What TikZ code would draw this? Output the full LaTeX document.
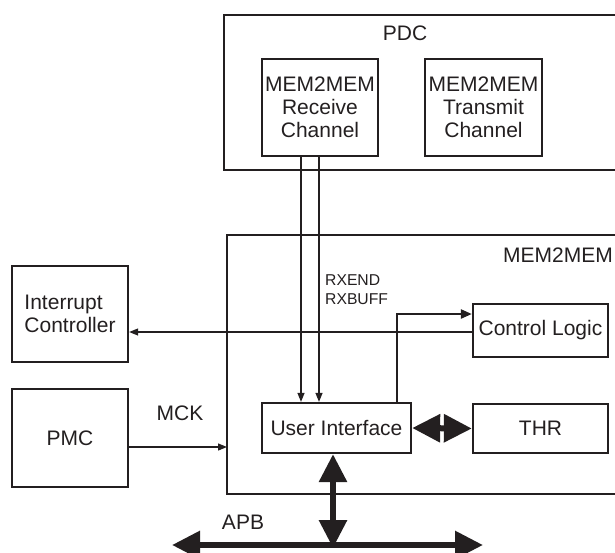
\documentclass[tikz,border=0pt]{standalone}
\usepackage{fontspec}
\setmainfont{Liberation Sans}
\usetikzlibrary{arrows.meta}
\definecolor{ink}{HTML}{231F20}
\tikzset{
  box/.style={draw=ink, line width=2.3pt, rectangle, inner sep=0pt, align=center,
              font=\fontsize{21}{23}\selectfont, text=ink},
  lbl/.style={inner sep=0pt, text=ink, font=\fontsize{21}{23}\selectfont},
  small/.style={inner sep=0pt, text=ink, align=left, font=\fontsize{15.7}{18.7}\selectfont},
  frame/.style={draw=ink, line width=2.3pt},
  thin/.style={draw=ink, line width=1.2pt, -{Triangle[length=9pt,width=7pt]}},
  mid/.style={draw=ink, line width=2.3pt, -{Triangle[length=11pt,width=9pt]}},
  bus/.style={draw=ink, line width=6pt, {Triangle[length=28pt,width=27pt]}-{Triangle[length=28pt,width=27pt]}},
}
\begin{document}
\begin{tikzpicture}[x=1pt,y=-1pt]
\useasboundingbox (0,0) rectangle (615,552);
% PDC frame (open to the right)
\coordinate (pdcTR) at (615,15);
\coordinate (pdcTL) at (224,15);
\coordinate (pdcBL) at (224,170);
\coordinate (pdcBR) at (615,170);
\draw[frame] (pdcTR) -- (pdcTL) -- (pdcBL) -- (pdcBR);
\node[lbl] (pdcl) at (405,33) {PDC};
\node[box, minimum width=116pt, minimum height=97pt] (rx) at (320,107.5) {MEM2MEM\\Receive\\Channel};
\node[box, minimum width=117pt, minimum height=97pt] (tx) at (483.5,107.5) {MEM2MEM\\Transmit\\Channel};
% MEM2MEM frame (open to the right)
\coordinate (mTR) at (615,235);
\coordinate (mTL) at (227,235);
\coordinate (mBL) at (227,494);
\coordinate (mBR) at (615,494);
\draw[frame] (mTR) -- (mTL) -- (mBL) -- (mBR);
\node[lbl, anchor=east] (ml) at (613,255) {MEM2MEM};
% boxes
\node[box, minimum width=116pt, minimum height=96pt, align=left] (ic) at (70,314) {Interrupt\\Controller};
\node[box, minimum width=116pt, minimum height=98pt] (pmc) at (70,438) {PMC};
\node[box, minimum width=149pt, minimum height=50pt] (ui) at (336.5,428) {User Interface};
\node[box, minimum width=135pt, minimum height=49pt] (thr) at (540.5,428.5) {THR};
\node[box, minimum width=135pt, minimum height=53pt] (cl) at (540.5,330.5) {Control Logic};
% signals from receive channel
\draw[thin] ([xshift=-19pt]rx.south) -- ([xshift=-19pt]rx.south |- ui.north);
\draw[thin] ([xshift=-1pt]rx.south) -- ([xshift=-1pt]rx.south |- ui.north);
\node[small, anchor=west] (rxl) at (325,290) {RXEND\\RXBUFF};
% control logic to interrupt controller
\draw[thin] ([yshift=-1.5pt]cl.west) -- ([yshift=-1.5pt]cl.west -| ic.east);
% user interface to control logic
\draw[mid] ([xshift=60.5pt]ui.north) |- ([yshift=16.5pt]cl.west);
% PMC clock
\draw[thin] ([yshift=-9pt]pmc.east) -- ([yshift=-9pt]pmc.east -| mTL);
\node[lbl] (mck) at (180,413) {MCK};
% buses
\draw[bus] (ui.east) -- (thr.west);
\coordinate (apbL) at (172,545);
\coordinate (apbR) at (483,545);
\draw[bus] (apbL) -- (apbR);
\draw[bus] ([xshift=-3.5pt]ui.south) -- ([xshift=-3.5pt,yshift=-3pt]ui.south |- apbL);
\node[lbl] (apb) at (243,522) {APB};
\end{tikzpicture}
\end{document}
